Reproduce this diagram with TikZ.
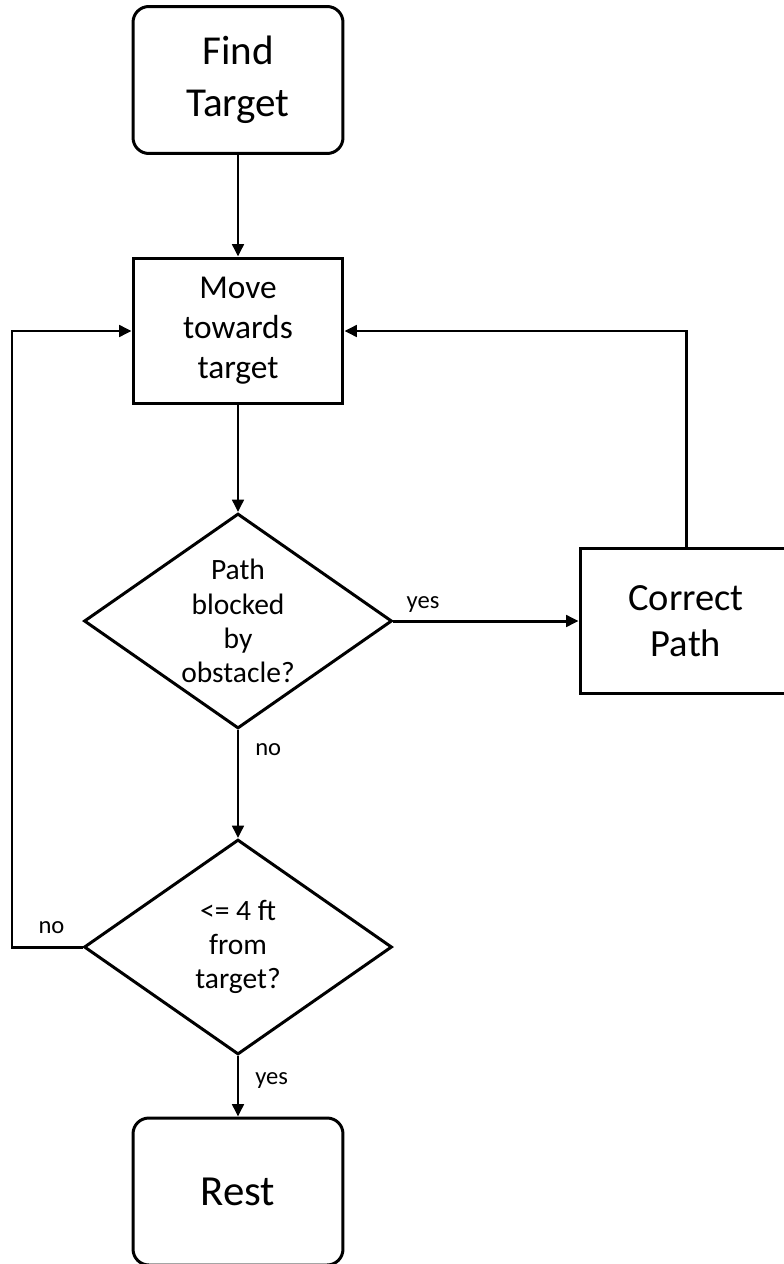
\documentclass[tikz,border=0pt]{standalone}
\usepackage{fontspec}
\setmainfont{Carlito}
\usetikzlibrary{arrows.meta, positioning, shapes.geometric}

\begin{document}
\begin{tikzpicture}[
    x=0.02cm, y=-0.02cm,
    startstop/.style={rectangle, rounded corners=9pt, draw, line width=1.7pt, minimum width=4.2cm, minimum height=2.94cm, align=center},
    box/.style={rectangle, draw, line width=1.7pt, minimum width=4.2cm, minimum height=2.92cm, align=center},
    decision/.style={diamond, draw, line width=1.7pt, minimum width=6.16cm, minimum height=4.3cm, inner sep=-14pt, align=center, font=\fontsize{16.8}{19.5}\selectfont},
    arrow/.style={-{Triangle[length=7pt, width=6.5pt]}, line width=1.7pt},
    lbl/.style={font=\fontsize{14}{16}\selectfont, inner sep=2pt}
]
    \useasboundingbox (0,0) rectangle (784,1264);

    % Steps
    \node[startstop, font=\fontsize{23.4}{29.5}\selectfont] (find) at (238,80) {Find\\Target};
    \node[box, font=\fontsize{19}{22.7}\selectfont] (move) at (238,331) {Move\\towards\\target};
    \node[decision] (blocked) at (238,621) {Path\\blocked\\by\\obstacle?};
    \node[box, minimum width=4.24cm, font=\fontsize{21.9}{26}\selectfont] (correct) at (686,621) {Correct\\Path};
    \node[decision] (near) at (238,947) {<= 4 ft\\from\\target?};
    \node[startstop, font=\fontsize{24.4}{28}\selectfont] (rest) at (238,1191.5) {Rest};
    \coordinate (loop) at (12,947);

    % Connections
    \draw[arrow] (find) -- (move);
    \draw[arrow] (move) -- (blocked);
    \draw[arrow] (blocked) -- node[lbl, pos=0.16, above=2pt] {yes} (correct);
    \draw[arrow] (correct.north) |- (move.east);
    \draw[arrow] (blocked) -- node[lbl, pos=0.18, right=7pt] {no} (near);
    \draw[arrow] (near.west) -- node[lbl, pos=0.44, above=5pt] {no} (loop) |- (move.west);
    \draw[arrow] (near) -- node[lbl, pos=0.4, right=7pt] {yes} (rest);
\end{tikzpicture}
\end{document}
